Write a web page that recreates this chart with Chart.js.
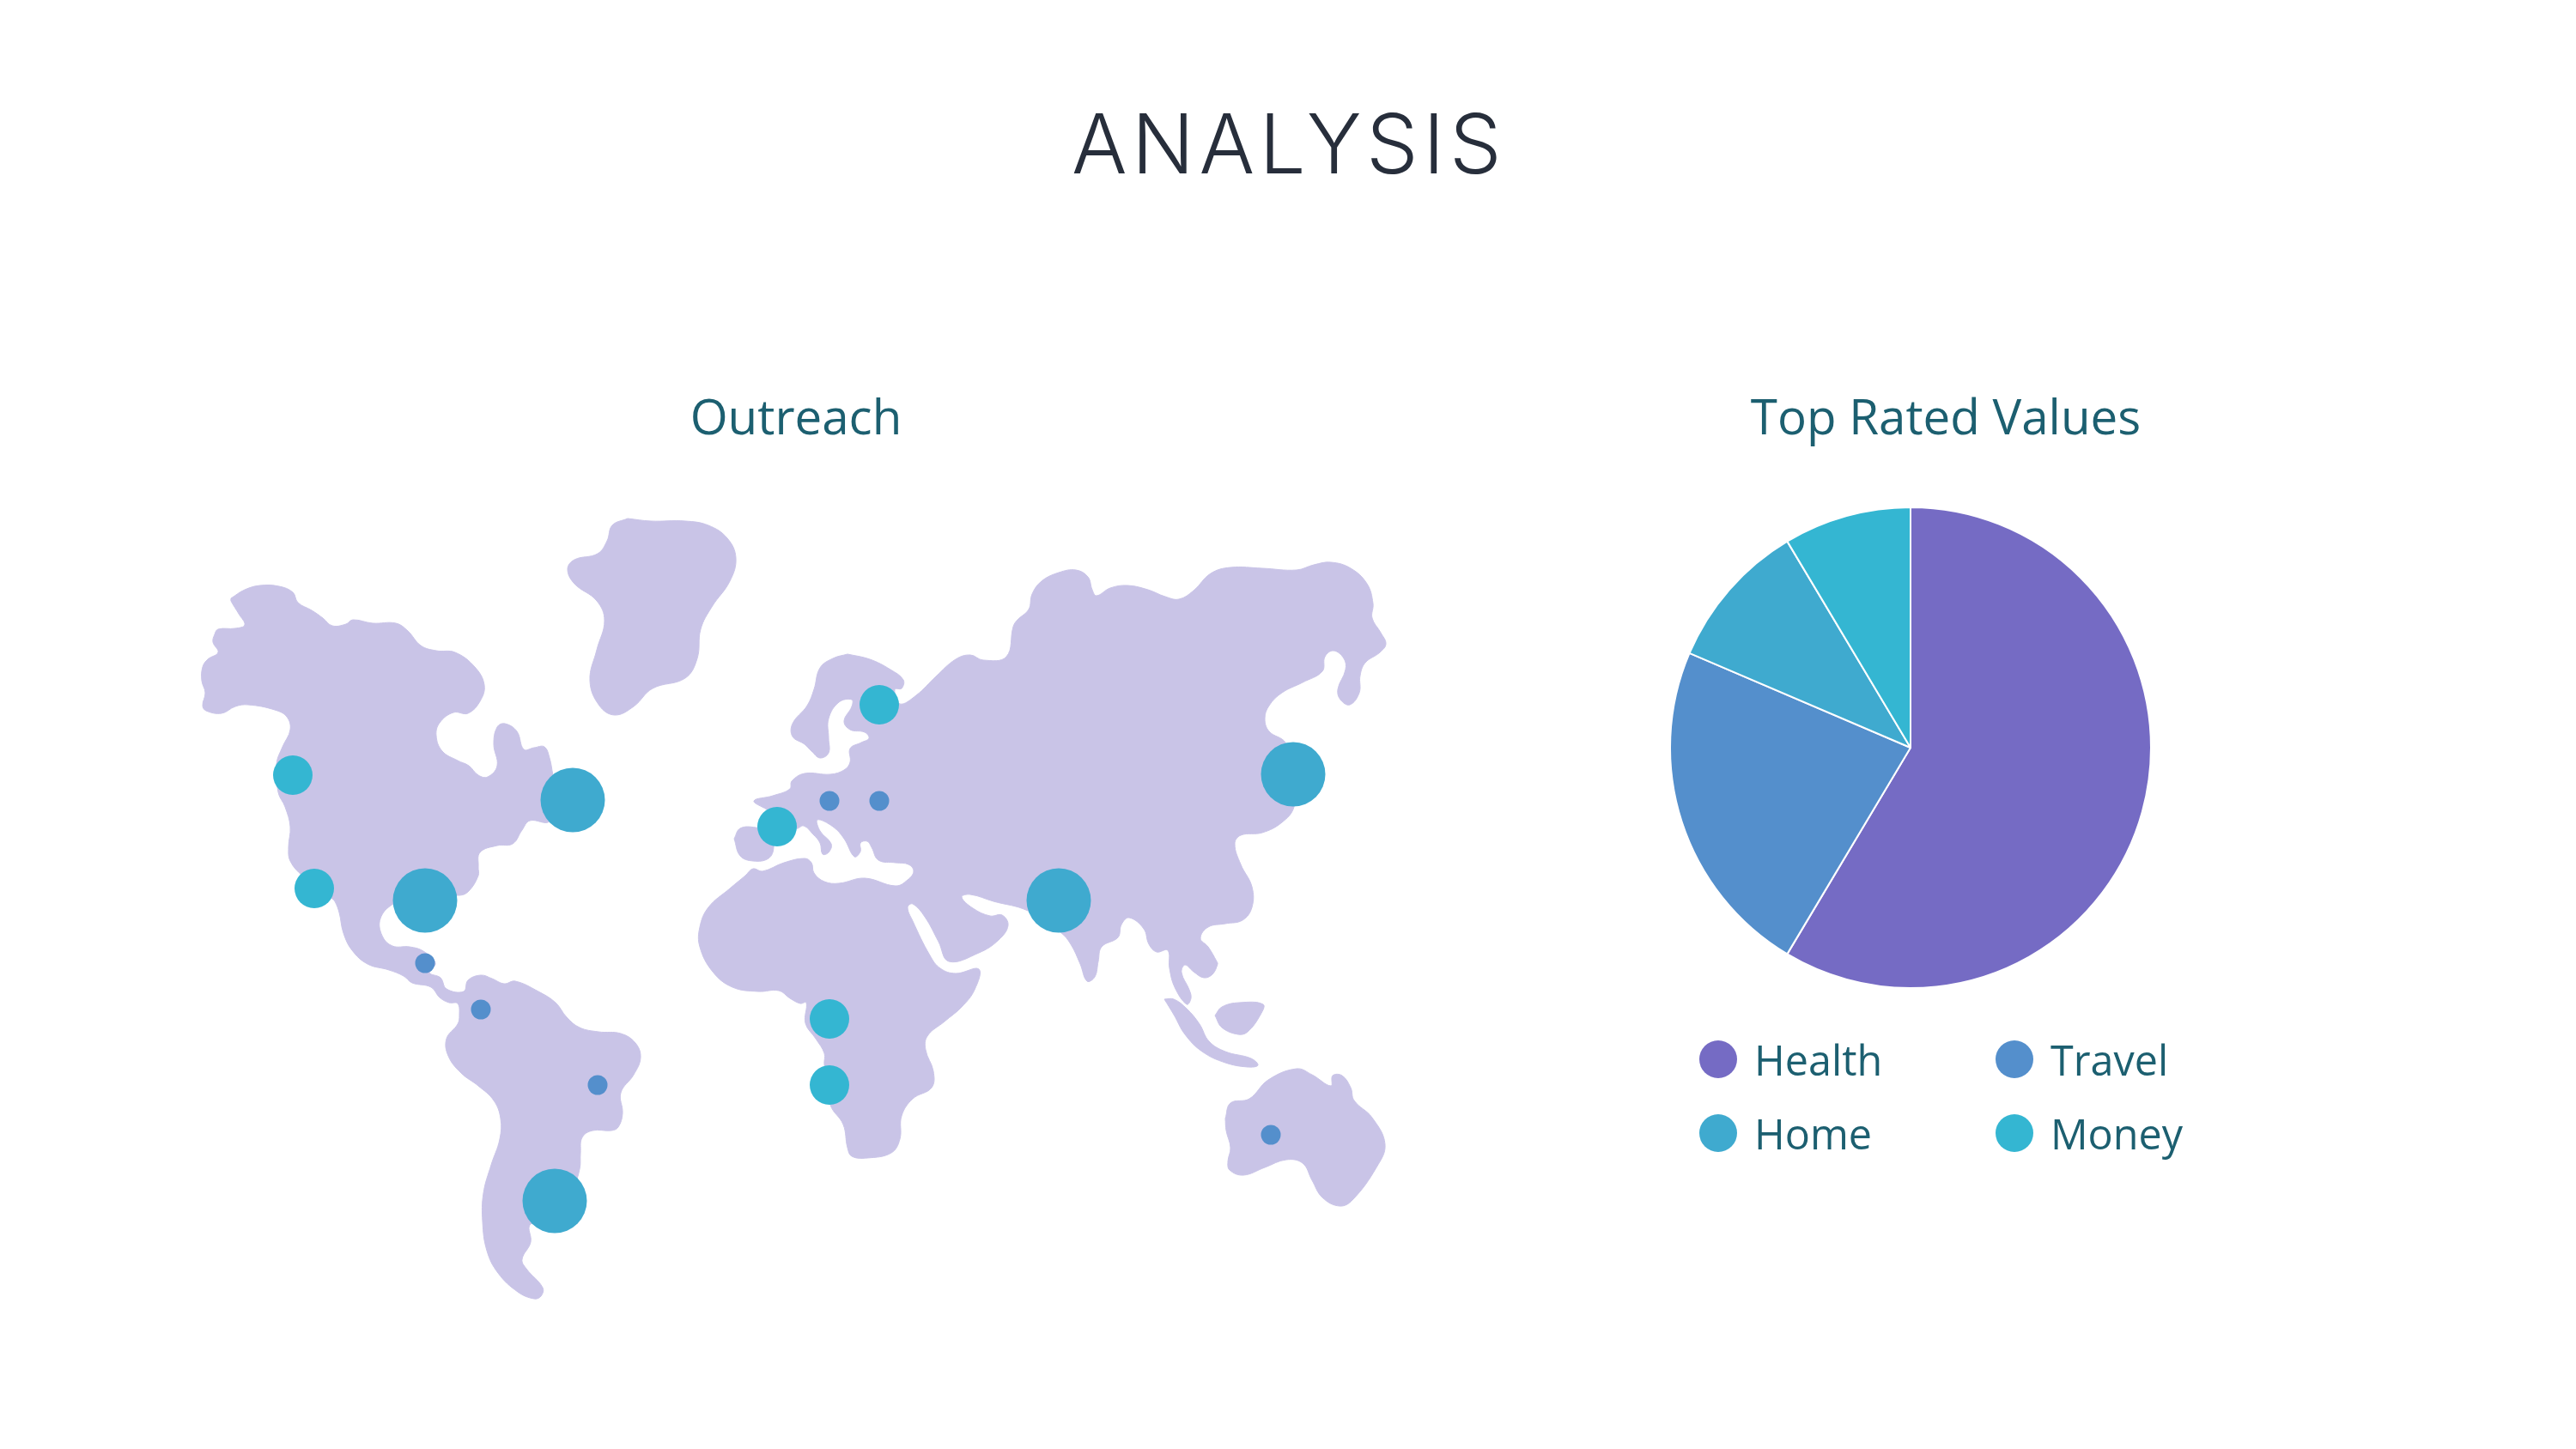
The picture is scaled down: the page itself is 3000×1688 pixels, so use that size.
<!DOCTYPE html>
<html>
<head>
<meta charset="utf-8">
<title>Analysis</title>
<script src="https://cdn.jsdelivr.net/npm/chart.js@4"></script>
<style>
  html, body { margin: 0; padding: 0; background: #fff; width: 3000px; height: 1688px; overflow: hidden; }
  canvas { position: absolute; }
  #map_chart { left: 0; top: 0; }
  #pie_chart { left: 1925px; top: 571px; }
  .head { position: absolute; text-align: center; white-space: nowrap; }
  #main_title { left: 1003px; width: 996px; top: 103px; font: 300 96px/128px Inter, sans-serif; color: #272e3b; letter-spacing: 5.5px; }
  .sub { font: 56.5px/72px "Open Sans", sans-serif; color: #1c5f70; }
  #map_title { left: 627px; width: 600px; top: 449px; }
  #pie_title { left: 1966px; width: 600px; top: 449px; }
  #pie_legend { position: absolute; left: 1979px; top: 1191px; display: grid; grid-template-columns: 345px 345px; grid-auto-rows: 86px; font: 48.5px/86px "Open Sans", sans-serif; color: #1c5f70; }
  #pie_legend div { display: flex; align-items: center; }
  #pie_legend i { display: block; width: 44px; height: 44px; border-radius: 50%; margin-right: 20px; }
</style>
</head>
<body>
<div id="main_title" class="head">ANALYSIS</div>
<div id="map_title" class="head sub">Outreach</div>
<div id="pie_title" class="head sub">Top Rated Values</div>
<canvas id="map_chart" width="1800" height="1688"></canvas>
<canvas id="pie_chart" width="600" height="600"></canvas>
<div id="pie_legend"></div>
<script>
// pie values
var categories = ['Health', 'Travel', 'Home', 'Money'];
var values = [8.2, 3.2, 1.4, 1.2];
var colors = ['#756bc4', '#548fcc', '#3faacf', '#34b6d2'];
var landColor = '#c9c4e7';

// outreach markers
var homeX = [667, 495, 646, 1233, 1506];
var homeY = [932, 1049, 1399, 1049, 902];
var moneyX = [341, 366, 1024, 905, 966, 966];
var moneyY = [903, 1035, 821, 963, 1187, 1264];
var travelX = [495, 560, 696, 966, 1024, 1480];
var travelY = [1122, 1176, 1264, 933, 933, 1322];

// land outlines
var americas = [[269,697],[285,687],[303,682],[325,683],[341,690],[347,702],[363,711],[376,720],[387,729],[403,727],[411,722],[434,726],[461,726],[475,735],[490,752],[508,758],[530,760],[553,777],[564,798],[559,817],[545,831],[528,830],[512,842],[508,857],[515,875],[533,886],[546,892],[557,903],[568,905],[579,892],[575,867],[579,847],[588,843],[602,852],[610,873],[622,871],[634,870],[640,883],[644,903],[650,930],[640,957],[617,956],[608,967],[597,983],[579,985],[559,993],[557,1010],[557,1020],[546,1038],[535,1043],[490,1040],[458,1053],[443,1070],[445,1090],[457,1102],[477,1103],[493,1108],[507,1122],[500,1133],[513,1139],[520,1152],[540,1155],[545,1142],[560,1136],[573,1140],[587,1146],[600,1143],[627,1155],[647,1168],[660,1185],[675,1197],[697,1202],[723,1204],[740,1215],[746,1232],[738,1252],[723,1273],[725,1297],[720,1313],[712,1317],[690,1317],[678,1325],[676,1343],[675,1362],[667,1383],[633,1423],[617,1427],[618,1447],[608,1467],[613,1478],[632,1500],[630,1510],[622,1513],[603,1505],[580,1483],[567,1457],[562,1423],[563,1390],[572,1357],[582,1327],[583,1303],[575,1282],[557,1265],[537,1250],[522,1230],[520,1210],[533,1193],[535,1183],[533,1169],[523,1168],[512,1162],[502,1150],[480,1145],[470,1137],[453,1130],[428,1123],[410,1107],[400,1087],[395,1063],[390,1050],[387,1047],[352,1020],[338,1003],[336,987],[338,963],[332,940],[324,923],[322,890],[329,870],[338,850],[334,835],[320,827],[289,821],[274,823],[258,831],[240,828],[236,822],[239,807],[235,793],[236,777],[242,768],[254,760],[248,748],[250,739],[254,733],[274,732],[285,728],[278,715],[269,700]];
var greenland = [[731,604],[758,607],[798,607],[825,612],[847,627],[857,650],[850,677],[829,707],[816,733],[812,767],[798,790],[760,802],[738,823],[716,833],[698,822],[687,793],[695,757],[704,723],[695,700],[669,680],[661,663],[669,652],[696,645],[707,630],[713,612]];
var eurasiaAfrica = [[987,762],[1013,768],[1037,780],[1052,792],[1050,802],[1042,803],[1048,820],[1067,810],[1090,788],[1113,768],[1130,763],[1145,769],[1172,765],[1180,730],[1185,722],[1198,710],[1202,692],[1213,677],[1233,667],[1253,664],[1267,672],[1272,687],[1277,694],[1293,685],[1313,682],[1337,687],[1357,695],[1373,698],[1390,688],[1410,668],[1433,661],[1470,662],[1510,664],[1530,658],[1550,655],[1573,662],[1592,680],[1599,703],[1598,720],[1608,737],[1614,750],[1607,760],[1590,772],[1584,787],[1583,807],[1572,821],[1561,815],[1558,803],[1567,780],[1565,767],[1553,758],[1543,765],[1540,782],[1517,795],[1493,807],[1478,822],[1473,837],[1478,852],[1497,865],[1510,900],[1507,940],[1493,958],[1470,970],[1445,973],[1438,983],[1445,1007],[1458,1033],[1458,1057],[1447,1072],[1427,1076],[1407,1080],[1398,1093],[1407,1103],[1417,1120],[1418,1123],[1412,1135],[1402,1139],[1390,1132],[1380,1124],[1376,1133],[1385,1153],[1387,1163],[1382,1170],[1368,1150],[1362,1128],[1360,1107],[1347,1109],[1338,1100],[1332,1082],[1315,1069],[1306,1077],[1302,1092],[1283,1103],[1279,1120],[1275,1138],[1266,1143],[1258,1123],[1247,1100],[1235,1086],[1197,1061],[1157,1050],[1130,1042],[1120,1045],[1133,1058],[1153,1067],[1167,1066],[1174,1078],[1163,1095],[1140,1110],[1105,1120],[1093,1097],[1077,1068],[1063,1053],[1057,1057],[1063,1073],[1083,1113],[1095,1128],[1113,1134],[1140,1129],[1135,1153],[1120,1173],[1100,1190],[1080,1207],[1078,1223],[1087,1248],[1085,1267],[1063,1280],[1050,1300],[1048,1327],[1038,1343],[1010,1349],[992,1347],[987,1337],[982,1310],[967,1287],[960,1240],[960,1227],[950,1210],[938,1192],[939,1168],[932,1169],[920,1163],[907,1154],[883,1155],[853,1150],[830,1132],[815,1103],[815,1080],[825,1057],[850,1035],[868,1020],[877,1012],[888,1015],[913,1005],[937,1000],[945,1005],[948,1017],[960,1027],[977,1029],[1007,1023],[1043,1032],[1057,1025],[1064,1015],[1058,1007],[1043,1005],[1023,1002],[1015,987],[1010,980],[1002,982],[1002,992],[995,998],[983,977],[970,963],[952,955],[955,968],[968,983],[965,993],[958,995],[955,982],[947,972],[936,962],[927,965],[893,943],[878,933],[900,927],[920,919],[922,910],[937,901],[967,902],[983,897],[990,888],[990,872],[1003,865],[1012,860],[1007,853],[990,850],[983,840],[992,823],[992,815],[977,818],[965,837],[965,860],[965,877],[955,883],[945,875],[937,867],[923,858],[923,843],[940,822],[948,803],[955,778],[970,767]];
var iberia = [[855,977],[862,965],[880,964],[897,970],[901,987],[895,1000],[877,1003],[862,997]];
var sumatra = [[1356,1164],[1367,1164],[1382,1175],[1397,1193],[1408,1213],[1427,1225],[1457,1233],[1465,1241],[1453,1243],[1427,1238],[1400,1225],[1380,1205],[1367,1182]];
var borneo = [[1415,1183],[1423,1173],[1443,1168],[1471,1170],[1468,1182],[1453,1202],[1442,1205],[1423,1197]];
var australia = [[1427,1303],[1433,1285],[1455,1280],[1477,1258],[1510,1245],[1528,1252],[1550,1265],[1552,1253],[1563,1253],[1573,1267],[1577,1282],[1598,1302],[1613,1333],[1603,1360],[1575,1398],[1560,1405],[1540,1395],[1528,1375],[1517,1355],[1498,1351],[1473,1360],[1448,1369],[1432,1363],[1430,1353],[1433,1337],[1428,1317]];

function bubbles(xs, ys, r, color) {
  var pts = [];
  xs.forEach(function (x, i) {
    pts.push({ x: x, y: ys[i], r: r });
  });
  return { type: 'bubble', data: pts, backgroundColor: color, borderWidth: 0, hoverRadius: 0 };
}

function land(outline) {
  var pts = outline.concat([outline[0]]).map(function (p) {
    return { x: p[0], y: p[1] };
  });
  return {
    type: 'scatter',
    data: pts,
    showLine: true,
    fill: 'shape',
    tension: 0.4,
    backgroundColor: landColor,
    borderColor: landColor,
    borderWidth: 1,
    pointRadius: 0
  };
}

var mapChart = new Chart(document.getElementById('map_chart').getContext('2d'), {
  data: {
    datasets: [
      bubbles(homeX, homeY, 37.5, colors[2]),
      bubbles(moneyX, moneyY, 23, colors[3]),
      bubbles(travelX, travelY, 11.5, colors[1]),
      land(americas),
      land(greenland),
      land(eurasiaAfrica),
      land(iberia),
      land(sumatra),
      land(borneo),
      land(australia)
    ]
  },
  options: {
    responsive: false,
    animation: false,
    // otherwise the bubbles pad the chart area and the map stops lining up
    layout: { autoPadding: false },
    scales: {
      x: { type: 'linear', min: 0, max: 1800, display: false },
      y: { type: 'linear', min: 0, max: 1688, reverse: true, display: false }
    },
    plugins: { legend: { display: false }, tooltip: { enabled: false } }
  }
});

var pieChart = new Chart(document.getElementById('pie_chart').getContext('2d'), {
  type: 'pie',
  data: {
    labels: categories,
    datasets: [{
      data: values,
      backgroundColor: colors,
      borderColor: '#ffffff',
      borderWidth: 2,
      radius: 280
    }]
  },
  options: {
    responsive: false,
    animation: false,
    plugins: { legend: { display: false }, tooltip: { enabled: false } }
  }
});

// legend is a plain 2 x 2 grid
var legendBox = document.getElementById('pie_legend');
categories.forEach(function (name, i) {
  var row = document.createElement('div');
  var dot = document.createElement('i');
  dot.style.background = colors[i];
  row.appendChild(dot);
  row.appendChild(document.createTextNode(name));
  legendBox.appendChild(row);
});
</script>
</body>
</html>
